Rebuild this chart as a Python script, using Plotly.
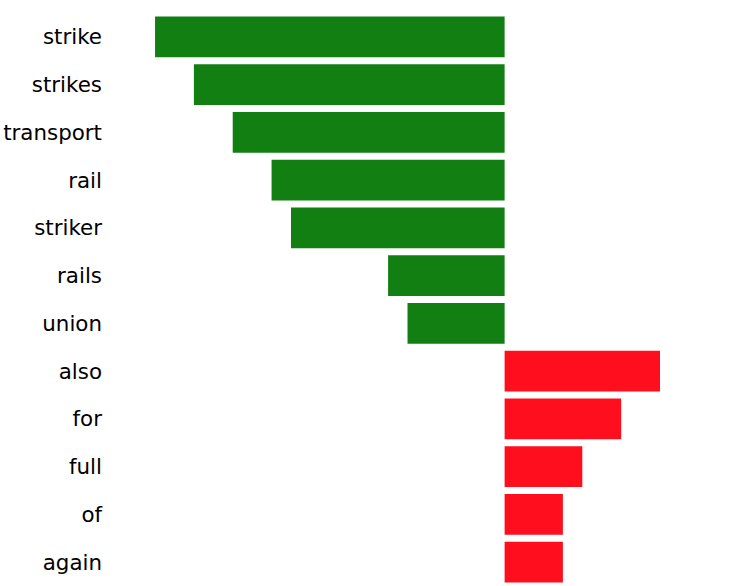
import plotly.graph_objects as go

words = ["strike", "strikes", "transport", "rail", "striker", "rails", "union",
         "also", "for", "full", "of", "again"]
weights = [-18, -16, -14, -12, -11, -6, -5, 8, 6, 4, 3, 3]

GREEN = "#117f11"
RED = "#ff0e1e"
colors = [GREEN if w < 0 else RED for w in weights]

fig = go.Figure(
    go.Bar(
        x=weights,
        y=words,
        orientation="h",
        marker_color=colors,
        marker_line_width=0,
    )
)

fig.update_layout(
    width=740,
    height=586,
    margin={"l": 103, "r": 0, "t": 13, "b": 0},
    paper_bgcolor="white",
    plot_bgcolor="white",
    bargap=0.15,
    showlegend=False,
    font=dict(family="DejaVu Sans", size=21.4, color="black"),
)
fig.update_xaxes(
    range=[-20.68, 12.12],
    showgrid=False,
    zeroline=False,
    showticklabels=False,
)
fig.update_yaxes(
    autorange="reversed",
    showgrid=False,
    zeroline=False,
    ticks="",
)

# drop the default 8px page margin so the figure sits at the window corner
fig.write_html(
    "out.html",
    config={"displayModeBar": False},
    post_script="document.body.style.margin = '0';",
)
